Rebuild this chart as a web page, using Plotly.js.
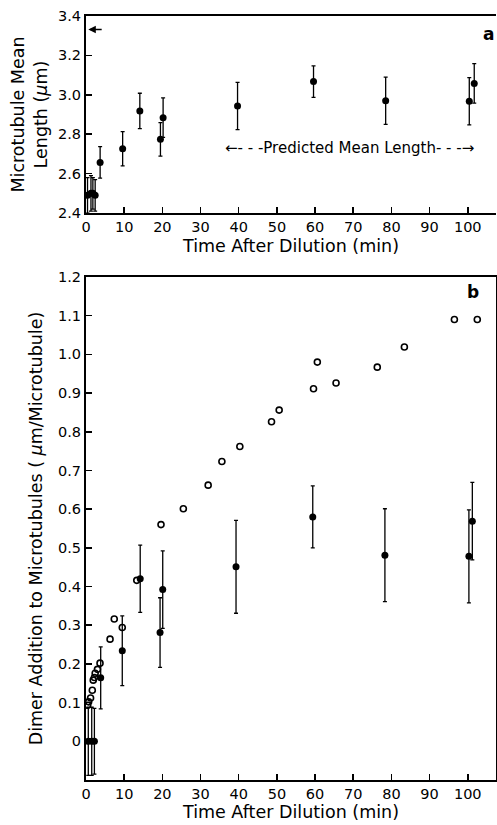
<!DOCTYPE html>
<html>
<head>
<meta charset="utf-8">
<script src="https://cdn.plot.ly/plotly-3.0.1.min.js"></script>
<style>html,body{margin:0;padding:0;background:#fff}#chart{width:497px;height:825px}</style>
</head>
<body>
<div id="chart"></div>
<script>
// Panel a: microtubule mean length (filled circles with error bars)
const timeA = [0.4, 1.3, 1.8, 2.4, 3.7, 9.6, 14.1, 19.5, 20.2, 39.7, 59.6, 78.5, 100.4, 101.7];
const lengthA = [2.49, 2.50, 2.50, 2.49, 2.657, 2.726, 2.918, 2.774, 2.884, 2.943, 3.067, 2.970, 2.967, 3.058];
const lengthErrA = [0.09, 0.09, 0.08, 0.08, 0.08, 0.087, 0.09, 0.085, 0.1, 0.12, 0.08, 0.12, 0.12, 0.1];

// Panel b: dimer addition, filled circles with error bars
const timeBFilled = [0.6, 1.5, 2.2, 3.85, 9.5, 14.2, 19.4, 20.1, 39.3, 59.4, 78.3, 100.3, 101.2];
const dimerFilled = [0, 0, 0, 0.164, 0.234, 0.42, 0.281, 0.392, 0.451, 0.580, 0.481, 0.478, 0.569];
const dimerErr = [0.088, 0.088, 0.085, 0.08, 0.09, 0.087, 0.09, 0.1, 0.12, 0.08, 0.12, 0.12, 0.1];

// Panel b: open circles
const timeBOpen = [0.45, 0.7, 1.2, 1.65, 1.9, 2.2, 2.4, 3.0, 3.67, 6.3, 7.4, 9.5, 13.3, 19.65, 25.5, 32.0, 35.6, 40.3, 48.6, 50.6, 59.6, 60.6, 65.5, 76.3, 83.4, 96.5, 102.5];
const dimerOpen = [0.093, 0.102, 0.112, 0.132, 0.158, 0.165, 0.176, 0.186, 0.202, 0.264, 0.316, 0.294, 0.416, 0.560, 0.601, 0.662, 0.723, 0.762, 0.826, 0.856, 0.911, 0.980, 0.926, 0.967, 1.019, 1.090, 1.090];

// Ticks
const xTickVals = [0, 10, 20, 30, 40, 50, 60, 70, 80, 90, 100];
const yTickValsA = [2.4, 2.6, 2.8, 3.0, 3.2, 3.4];
const yTickTextA = ["2.4", "2.6", "2.8", "3.0", "3.2", "3.4"];
const yTickValsB = [0, 0.1, 0.2, 0.3, 0.4, 0.5, 0.6, 0.7, 0.8, 0.9, 1.0, 1.1, 1.2];
const yTickTextB = ["0", "0.1", "0.2", "0.3", "0.4", "0.5", "0.6", "0.7", "0.8", "0.9", "1.0", "1.1", "1.2"];

const FONT = "DejaVu Sans, Liberation Sans, Arial, sans-serif";
const errStyle = (arr) => ({type: "data", array: arr, visible: true, color: "#000", thickness: 1.3, width: 2});

const traces = [
  {x: timeA, y: lengthA, xaxis: "x", yaxis: "y", type: "scatter", mode: "markers",
   marker: {size: 7, color: "#000"}, error_y: errStyle(lengthErrA)},
  {x: timeBOpen, y: dimerOpen, xaxis: "x2", yaxis: "y2", type: "scatter", mode: "markers",
   marker: {size: 6, symbol: "circle-open", color: "#000", line: {width: 1.6, color: "#000"}}},
  {x: timeBFilled, y: dimerFilled, xaxis: "x2", yaxis: "y2", type: "scatter", mode: "markers",
   marker: {size: 7, color: "#000"}, error_y: errStyle(dimerErr)}
];

const axisCommon = {
  showgrid: false, zeroline: false, showline: true, linecolor: "#000", linewidth: 2,
  ticks: "inside", ticklen: 6, tickwidth: 1.5, tickcolor: "#000",
  tickfont: {family: FONT, size: 14.5, color: "#000"}, automargin: false
};
const titleFont = {family: FONT, size: 17.5, color: "#000"};

const xRange = [0, 107.4];

const layout = {
  width: 497, height: 825,
  margin: {l: 86, r: 1, t: 16, b: 45},
  paper_bgcolor: "#fff", plot_bgcolor: "#fff",
  showlegend: false,
  font: {family: FONT, color: "#000"},
  xaxis: Object.assign({}, axisCommon, {
    anchor: "y", domain: [0, 1], range: xRange, tickvals: xTickVals, mirror: true,
    title: {text: "Time After Dilution (min)", font: titleFont, standoff: 5}
  }),
  yaxis: Object.assign({}, axisCommon, {
    anchor: "x", domain: [0.7421, 1], range: [2.4, 3.4], tickvals: yTickValsA, ticktext: yTickTextA, mirror: false,
    title: {text: "Microtubule Mean<br>Length (<i>μ</i>m)", font: titleFont, standoff: 6}
  }),
  xaxis2: Object.assign({}, axisCommon, {
    anchor: "y2", domain: [0, 1], range: xRange, tickvals: xTickVals, mirror: true,
    title: {text: "Time After Dilution (min)", font: titleFont, standoff: 3}
  }),
  yaxis2: Object.assign({}, axisCommon, {
    anchor: "x2", domain: [0, 0.6584], range: [-0.1, 1.2], tickvals: yTickValsB, ticktext: yTickTextB, mirror: true,
    title: {text: "Dimer Addition to Microtubules ( <i>μ</i>m/Microtubule)", font: titleFont, standoff: 11}
  }),
  annotations: [
    {text: "<b>a</b>", x: 105.4, y: 3.307, xref: "x", yref: "y", showarrow: false,
     font: {family: FONT, size: 17, color: "#000"}, xanchor: "center", yanchor: "middle"},
    {text: "<b>b</b>", x: 101.4, y: 1.162, xref: "x2", yref: "y2", showarrow: false,
     font: {family: FONT, size: 17, color: "#000"}, xanchor: "center", yanchor: "middle"},
    {text: "", x: 0.6, y: 3.332, ax: 4.5, ay: 3.332, xref: "x", yref: "y", axref: "x", ayref: "y",
     showarrow: true, arrowhead: 2, arrowsize: 1, arrowwidth: 1.5, arrowcolor: "#000"},
    {text: "←- - -Predicted Mean Length- - -→", x: 68.95, y: 2.728, xref: "x", yref: "y", showarrow: false,
     font: {family: FONT, size: 15, color: "#000"}, xanchor: "center", yanchor: "middle"}
  ]
};

Plotly.newPlot("chart", traces, layout, {displayModeBar: false, staticPlot: true});
</script>
</body>
</html>
